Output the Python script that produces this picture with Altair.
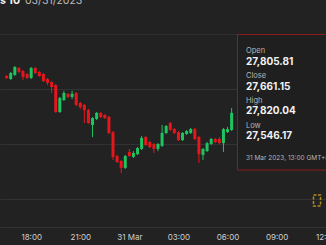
import altair as alt
import pandas as pd

# 15-minute candles, 2023-03-30 16:30 UTC onwards
start = "2023-03-30T16:30:00Z"
opens = [27849, 27838, 27853, 27878, 27867, 27856, 27842, 27878, 27864, 27856,
         27838, 27827, 27816, 27718, 27762, 27784, 27773, 27787, 27751, 27744,
         27725, 27671, 27693, 27715, 27707, 27700, 27645, 27558, 27540, 27515,
         27573, 27555, 27565, 27584, 27627, 27609, 27602, 27584, 27595, 27642,
         27678, 27656, 27645, 27616, 27638, 27642, 27656, 27627, 27562, 27576,
         27602, 27620, 27620, 27605, 27645, 27653]
highs = [27853, 27864, 27885, 27882, 27871, 27860, 27882, 27882, 27867, 27860,
         27842, 27831, 27820, 27773, 27795, 27787, 27795, 27791, 27755, 27747,
         27729, 27700, 27718, 27718, 27711, 27704, 27649, 27562, 27544, 27562,
         27584, 27576, 27591, 27631, 27631, 27613, 27605, 27605, 27671, 27671,
         27682, 27660, 27649, 27645, 27653, 27660, 27660, 27631, 27587, 27609,
         27624, 27624, 27627, 27660, 27664, 27733]
lows = [27838, 27835, 27849, 27860, 27835, 27838, 27838, 27856, 27846, 27827,
        27816, 27787, 27715, 27715, 27758, 27769, 27765, 27740, 27729, 27678,
        27675, 27627, 27689, 27696, 27693, 27638, 27544, 27533, 27496, 27511,
        27555, 27551, 27562, 27580, 27595, 27587, 27569, 27576, 27591, 27638,
        27649, 27638, 27613, 27613, 27635, 27638, 27616, 27533, 27544, 27573,
        27598, 27605, 27602, 27573, 27642, 27649]
closes = [27842, 27860, 27882, 27864, 27846, 27842, 27878, 27860, 27849, 27831,
          27824, 27809, 27718, 27769, 27787, 27773, 27784, 27744, 27736, 27725,
          27678, 27696, 27715, 27700, 27696, 27642, 27555, 27536, 27515, 27558,
          27558, 27569, 27587, 27624, 27598, 27591, 27584, 27602, 27642, 27667,
          27653, 27642, 27616, 27642, 27649, 27656, 27620, 27565, 27584, 27605,
          27620, 27609, 27605, 27656, 27656, 27715]
grid_values = [27400, 27500, 27600, 27700, 27800, 27900]
tooltip_labels = ["Open", "Close", "High", "Low"]
tooltip_values = ["27,805.81", "27,661.15", "27,820.04", "27,546.17"]
tooltip_date = "31 Mar 2023, 13:00 GMT+8"
title_bold = "s 10"
title_date = "03/31/2023"

times = pd.date_range(start=start, periods=len(opens), freq="15min")
df = pd.DataFrame({
    "t": times.strftime("%Y-%m-%dT%H:%M:%SZ"),
    "open": opens, "high": highs, "low": lows, "close": closes,
})
df["dir"] = ["up" if c >= o else "down" for o, c in zip(opens, closes)]

BG = "#222222"
GREEN = "#1dc460"
RED = "#e5171c"

xscale = alt.Scale(type="utc", domain=["2023-03-30T16:24:00Z", "2023-03-31T11:42:45Z"])
yscale = alt.Scale(domain=[27300, 28001.8], nice=False, zero=False)
color = alt.Color("dir:N", scale=alt.Scale(domain=["up", "down"], range=[GREEN, RED]), legend=None)

tick_vals = [alt.DateTime(year=2023, month=3, date=d, hours=h, utc=True)
             for d, h in [(30, 18), (30, 21), (31, 0), (31, 3), (31, 6), (31, 9), (31, 12)]]

xaxis = alt.Axis(values=tick_vals, title=None, grid=False, ticks=False, tickSize=0,
                 labelExpr="utchours(datum.value) == 0 ? utcFormat(datum.value, '%d %b') : utcFormat(datum.value, '%H:%M')",
                 labelColor="#cfcfcf", labelFontSize=8, labelFont="Inter",
                 labelPadding=12, labelBaseline="alphabetic",
                 labelOverlap=False, labelBound=False, labelFlush=False,
                 domainColor="#333333", domainWidth=1)
yaxis = alt.Axis(values=grid_values, title=None, labels=False, ticks=False, domain=False,
                 grid=True, gridColor="#333333", gridWidth=1)

base = alt.Chart(df)

wicks = base.mark_rule(strokeWidth=1).encode(
    x=alt.X("t:T", scale=xscale, axis=xaxis),
    y=alt.Y("low:Q", scale=yscale, axis=yaxis),
    y2="high:Q",
    color=color,
)
bodies = base.mark_bar(size=3).encode(
    x=alt.X("t:T", scale=xscale),
    y=alt.Y("open:Q", scale=yscale),
    y2="close:Q",
    color=color,
)

one = pd.DataFrame({"a": [0]})

top_line = alt.Chart(one).mark_rule(color="#2f2f2f", strokeWidth=1).encode(
    x=alt.value(0), x2=alt.value(326), y=alt.value(0.5)
)

box = alt.Chart(one).mark_rect(
    fill="#1f1f1f", stroke="#8a1c1c", strokeWidth=1
).encode(x=alt.value(237.5), x2=alt.value(345), y=alt.value(0.5), y2=alt.value(136))


def txt(s, x, y, color, size, weight="normal"):
    return alt.Chart(pd.DataFrame({"s": [s]})).mark_text(
        align="left", baseline="alphabetic", color=color, fontSize=size,
        fontWeight=weight, font="Inter"
    ).encode(x=alt.value(x), y=alt.value(y), text="s:N")


texts = []
label_y = [19, 44, 69, 94]
value_y = [31, 56, 80, 105]
for lab, val, ly, vy in zip(tooltip_labels, tooltip_values, label_y, value_y):
    texts.append(txt(lab, 246, ly, "#b5b5b5", 7.5))
    texts.append(txt(val, 246, vy, "#f2f2f2", 10, "bold"))
texts.append(txt(tooltip_date, 246, 126, "#b5b5b5", 6.5))
texts.append(txt(title_bold, 0, -30, "#f0f0f0", 10.5, "bold"))
texts.append(txt(title_date, 25, -30, "#bdbdbd", 10.5))

icon = alt.Chart(one).mark_rect(
    fill="transparent", stroke="#b38a1c", strokeWidth=1.5, strokeDash=[3, 1.5]
).encode(x=alt.value(313.5), x2=alt.value(320.5), y=alt.value(161), y2=alt.value(172))

chart = alt.layer(
    top_line, wicks, bodies, box, *texts, icon
).properties(
    width=326, height=193,
    padding={"top": 34, "bottom": 18, "left": 0, "right": 0},
    autosize=alt.AutoSizeParams(type="none"),
    background=BG,
).configure_view(stroke=None)

chart.save("out.html", embed_options={"renderer": "svg", "actions": False})
